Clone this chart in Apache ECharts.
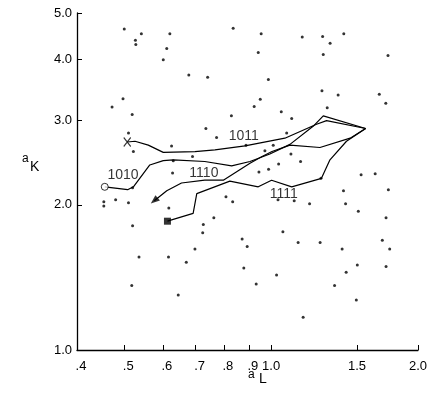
<!DOCTYPE html>
<html><head><meta charset="utf-8">
<script src="https://cdn.jsdelivr.net/npm/echarts@6/dist/echarts.min.js"></script>
<style>html,body{margin:0;padding:0;background:#fff}#c{width:448px;height:406px}</style>
</head><body><div id="c"></div>
<script>
// Axis ticks
const xTicks = [0.4, 0.5, 0.6, 0.7, 0.8, 0.9, 1.0, 1.5, 2.0];
const xTickLabels = ['.4', '.5', '.6', '.7', '.8', '.9', '1.0', '1.5', '2.0'];
const yTicks = [1, 2, 3, 4, 5];
const yTickLabels = ['1.0', '2.0', '3.0', '4.0', '5.0'];

// Scattered dots (a_L, a_K)
const dotsX = [0.500,0.542,0.620,0.527,0.528,0.611,0.601,0.678,0.741,0.836,0.954,0.941,0.987,0.497,0.472,0.519,0.950,0.923,0.829,1.158,1.275,1.409,1.321,1.279,1.736,1.271,1.372,1.666,1.718,1.049,1.303,1.102,0.735,0.773,0.510,0.625,0.522,0.690,0.888,0.971,0.630,0.628,0.944,0.988,0.520,0.454,0.454,0.480,0.510,0.808,0.834,0.617,0.520,0.726,0.763,0.872,0.724,0.893,0.698,0.536,0.616,0.670,0.879,0.518,0.932,0.645,1.509,1.720,1.057,1.136,1.260,1.690,1.398,1.750,1.502,1.720,1.026,1.425,1.349,1.495,1.163,1.076,1.010,1.098,1.149,1.036,1.529,1.634,1.739,1.407,1.421,1.199,1.115,1.265,1.033];
const dotsY = [4.63,4.53,4.53,4.39,4.30,4.22,4.00,3.72,3.68,4.65,4.53,4.14,3.64,3.32,3.19,3.08,3.31,3.20,3.06,4.46,4.47,4.53,4.33,4.10,4.08,3.45,3.38,3.39,3.25,3.12,3.18,3.02,2.88,2.76,2.82,2.65,2.58,2.52,2.66,2.59,2.47,2.33,2.34,2.37,2.17,2.03,1.99,2.05,2.02,2.08,2.03,1.97,1.81,1.82,1.88,1.70,1.75,1.64,1.62,1.56,1.56,1.52,1.48,1.36,1.37,1.30,1.94,1.88,1.76,1.67,1.67,1.69,1.62,1.62,1.50,1.49,1.43,1.45,1.36,1.27,1.17,2.82,2.66,2.55,2.46,2.43,2.31,2.32,2.15,2.14,2.01,2.01,2.04,2.27,2.05];

// Trajectories (start marker first, ending at the common point)
const path1011 = [[0.507,2.70],[0.526,2.71],[0.560,2.66],[0.601,2.57],[0.698,2.58],[0.767,2.60],[0.884,2.65],[1.067,2.75],[1.239,2.94],[1.299,2.99],[1.562,2.88]];
const path1010 = [[0.456,2.18],[0.508,2.15],[0.522,2.18],[0.564,2.42],[0.601,2.47],[0.630,2.48],[0.731,2.46],[0.830,2.41],[0.905,2.46],[0.994,2.55],[1.093,2.67],[1.219,2.91],[1.279,3.06],[1.562,2.88]];
const path1110 = [[0.576,2.04],[0.611,2.14],[0.655,2.22],[0.731,2.25],[0.798,2.25],[0.905,2.44],[0.958,2.52],[1.004,2.58],[1.093,2.66],[1.259,2.63],[1.452,2.75],[1.562,2.88]];
const path1111 = [[0.613,1.85],[0.692,1.92],[0.704,2.11],[0.823,2.24],[0.941,2.18],[1.002,2.25],[1.102,2.18],[1.268,2.27],[1.320,2.48],[1.427,2.71],[1.562,2.88]];

// Path labels
const pathNames = ['1011', '1010', '1110', '1111'];
const pathLabelX = [0.879, 0.497, 0.728, 1.062];
const pathLabelY = [2.78, 2.31, 2.33, 2.11];

const lg = v => Math.log10(v);
const toXY = p => [lg(p[0]), lg(p[1])];
const FONT = 'Liberation Sans, Arial, Helvetica, sans-serif';

function lineSeries(path) {
  return {
    type: 'line', data: path.map(toXY), showSymbol: false, symbol: 'none',
    lineStyle: { color: '#000', width: 1.2 }, silent: true, z: 3
  };
}
function findLabel(v, ticks, labels) {
  for (let i = 0; i < ticks.length; i++) if (Math.abs(lg(ticks[i]) - v) < 1e-6) return labels[i];
  return '';
}

const chart = echarts.init(document.getElementById('c'), null, { renderer: 'canvas' });
chart.setOption({
  animation: false,
  backgroundColor: '#fff',
  grid: { left: 77, right: 30, top: 13, bottom: 56, containLabel: false },
  xAxis: {
    type: 'value', min: lg(0.4), max: lg(2.0),
    axisLine: { show: true, onZero: false, lineStyle: { color: '#000', width: 1.3 } },
    axisTick: { show: true, inside: true, length: 5, customValues: xTicks.map(lg), lineStyle: { color: '#000', width: 1 } },
    axisLabel: {
      customValues: xTicks.map(lg), color: '#000', fontSize: 13, fontFamily: FONT, margin: 10,
      formatter: v => { const s = findLabel(v, xTicks, xTickLabels); return s.charAt(0) === '.' ? '{p|' + s + '}' : s; },
      rich: { p: { padding: [0, 0, 0, 8], fontSize: 13, fontFamily: FONT, color: '#000' } }
    },
    splitLine: { show: false }
  },
  yAxis: {
    type: 'value', min: 0, max: lg(5),
    axisLine: { show: true, onZero: false, lineStyle: { color: '#000', width: 1.3 } },
    axisTick: { show: true, inside: true, length: 5, customValues: yTicks.map(lg), lineStyle: { color: '#000', width: 1 } },
    axisLabel: {
      customValues: yTicks.map(lg), color: '#000', fontSize: 13, fontFamily: FONT, margin: 5,
      formatter: v => findLabel(v, yTicks, yTickLabels)
    },
    splitLine: { show: false }
  },
  graphic: [
    { type: 'text', left: 22, top: 153, style: { text: 'a', fontSize: 12, fontFamily: FONT, fill: '#000' } },
    { type: 'text', left: 30, top: 160, style: { text: 'K', fontSize: 14, fontFamily: FONT, fill: '#000' } },
    { type: 'text', left: 248, top: 369, style: { text: 'a', fontSize: 12, fontFamily: FONT, fill: '#000' } },
    { type: 'text', left: 259, top: 372, style: { text: 'L', fontSize: 14, fontFamily: FONT, fill: '#000' } }
  ],
  series: [
    {
      type: 'scatter', data: dotsX.map((x, i) => [lg(x), lg(dotsY[i])]),
      symbol: 'circle', symbolSize: 3, itemStyle: { color: '#000' }, silent: true, z: 2
    },
    lineSeries(path1011), lineSeries(path1010), lineSeries(path1110), lineSeries(path1111),
    { // X start of 1011
      type: 'scatter', data: [toXY(path1011[0])], symbol: 'path://M0,0L10,12M10,0L0,12', symbolSize: [7, 9],
      itemStyle: { color: 'none', borderColor: '#000', borderWidth: 1.2 }, silent: true, z: 5
    },
    { // open circle start of 1010
      type: 'scatter', data: [toXY(path1010[0])], symbol: 'circle', symbolSize: 7,
      itemStyle: { color: '#fff', borderColor: '#000', borderWidth: 1 }, silent: true, z: 5
    },
    { // arrow end of 1110
      type: 'scatter', data: [toXY(path1110[0])], symbol: 'triangle', symbolSize: [7, 9], symbolRotate: 130,
      itemStyle: { color: '#000' }, silent: true, z: 5
    },
    { // filled square of 1111
      type: 'scatter', data: [toXY(path1111[0])], symbol: 'rect', symbolSize: 7,
      itemStyle: { color: '#000' }, silent: true, z: 5
    },
    { // labels
      type: 'scatter', data: pathNames.map((n, i) => ({ name: n, value: [lg(pathLabelX[i]), lg(pathLabelY[i])] })),
      symbolSize: 0, silent: true, z: 6,
      label: { show: true, position: 'inside', formatter: p => p.name, color: '#000', fontSize: 14, fontFamily: FONT }
    }
  ]
});
</script></body></html>
